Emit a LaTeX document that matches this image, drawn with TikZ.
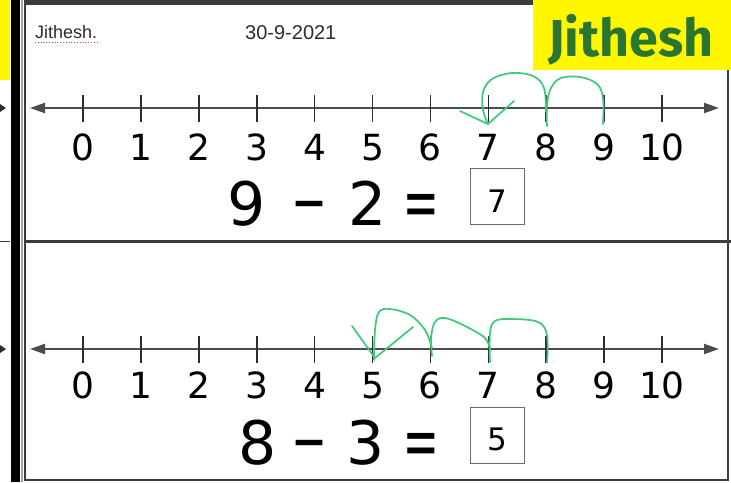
\documentclass[tikz,border=0pt]{standalone}
\usepackage{fontspec}
\setmainfont{Liberation Sans}
\newfontfamily\namefont{Fira Sans}
\newfontfamily\digfont{DejaVu Sans}
\usetikzlibrary{arrows.meta,calc}
\definecolor{pen}{RGB}{62,200,122}
\definecolor{ink}{RGB}{45,45,45}
\definecolor{namegreen}{RGB}{42,118,48}
\definecolor{hilite}{RGB}{255,247,0}
\definecolor{rule}{RGB}{60,60,60}
\tikzset{
  numline/.style={line width=2pt, draw=ink!85, {Triangle[length=15pt,width=10pt]}-{Triangle[length=15pt,width=10pt]}},
  tick/.style={line width=1.6pt, draw=ink},
  numlab/.style={font=\digfont\fontsize{36}{40}\selectfont, text=black, anchor=base, inner sep=0pt},
  eqlab/.style={font=\digfont\fontsize{60}{66}\selectfont, text=black, anchor=base, inner sep=0pt},
  eqsym/.style={font=\bfseries\fontsize{54}{60}\selectfont, text=black, anchor=base, inner sep=0pt},
  ansbox/.style={draw=ink!70, line width=1pt, minimum width=54pt, minimum height=56pt, inner sep=0pt},
  anslab/.style={font=\digfont\fontsize{31}{36}\selectfont, text=black, anchor=base, inner sep=0pt},
  jump/.style={draw=pen, line width=1.7pt, line cap=round, line join=round},
  small/.style={font=\fontsize{18}{20}\selectfont, text=ink, anchor=base west, inner sep=0pt},
}
\begin{document}
\begin{tikzpicture}[x=1pt,y=-1pt]
\useasboundingbox (0,0) rectangle (731,482);
\fill[white] (0,0) rectangle (731,482);
% left strip
\fill[hilite] (0,0) rectangle (10,80);
\draw[rule, line width=1pt] (0,241) -- (10,241);
\fill[ink] (0,104) -- (6,108) -- (0,112) -- cycle;
\fill[ink] (0,345) -- (6,349) -- (0,353) -- cycle;
\draw[black, line width=9pt] (15,0) -- (15,482);
\draw[gray!70, line width=1.5pt] (22,0) -- (22,482);
% frame
\draw[rule, line width=2.5pt] (25,0) -- (25,480) -- (728,480) -- (728,70);
\draw[rule, line width=5pt] (25,2.5) -- (533,2.5);
\draw[rule, line width=3pt] (25,241) -- (731,241);
% name box
\fill[hilite] (533,0) rectangle (731,70);
\node[font=\namefont\bfseries\fontsize{52}{54}\selectfont, text=namegreen, anchor=base, inner sep=0pt] (bigname) at (631,56) {Jithesh};
% small texts
\node[small] (name) at (35,38) {Jithesh.};
\draw[red!80, line width=0.8pt, dotted] (35,42) -- (97,42);
\node[small, font=\fontsize{20}{22}\selectfont] (date) at (245,39) {30-9-2021};
% number line 1
\coordinate (l1a) at (30,108);
\coordinate (l1b) at (719,108);
\draw[numline] (l1a) -- (l1b);
\foreach \i in {0,...,10} {
  \coordinate (t1\i) at ({83+57.9*\i},108);
  \draw[tick] ($(t1\i)+(0,-13)$) -- ($(t1\i)+(0,14)$);
  \node[numlab] (n1\i) at ({83+57.9*\i},160) {\i};
}
% equation 1
\node[eqlab] (e1a) at (247,225) {9};
\node[eqsym] (e1b) at (310,218) {–};
\node[eqlab] (e1c) at (368,225) {2};
\node[eqsym] (e1d) at (421,222) {=};
\node[ansbox] (box1) at (497.5,196.5) {};
\node[anslab] (ans1) at (497.5,212) {7};
% jumps 1
\draw[jump] plot[smooth, tension=0.6] coordinates {(603,124) (603,98) (597,84) (580,77) (561,78) (551,88) (547,105) (547,126)};
\draw[jump] plot[smooth, tension=0.6] coordinates {(546,112) (544,88) (533,76) (512,73) (492,79) (483,92) (483,110) (488,124)};
\draw[jump] (460,111) -- (488,124) -- (514,101);
% number line 2
\coordinate (l2a) at (30,349);
\coordinate (l2b) at (719,349);
\draw[numline] (l2a) -- (l2b);
\foreach \i in {0,...,10} {
  \coordinate (t2\i) at ({83+57.9*\i},349);
  \draw[tick] ($(t2\i)+(0,-13)$) -- ($(t2\i)+(0,14)$);
  \node[numlab] (n2\i) at ({83+57.9*\i},398) {\i};
}
% equation 2
\node[eqlab] (e2a) at (258,464) {8};
\node[eqsym] (e2b) at (310,457) {–};
\node[eqlab] (e2c) at (366,464) {3};
\node[eqsym] (e2d) at (421,461) {=};
\node[ansbox] (box2) at (497.5,435.5) {};
\node[anslab] (ans2) at (497.5,450) {5};
% jumps 2
\draw[jump] plot[smooth, tension=0.6] coordinates {(547,362) (547,335) (538,322) (512,319) (495,321) (490,333) (490,362)};
\draw[jump] plot[smooth, tension=0.6] coordinates {(490,350) (485,338) (465,326) (445,318) (435,322) (431,338) (432,356)};
\draw[jump] plot[smooth, tension=0.6] coordinates {(432,348) (425,330) (410,315) (390,309) (379,312) (375,330) (374,360)};
\draw[jump] (352,326) -- (375,358) -- (413,327);
\end{tikzpicture}
\end{document}
